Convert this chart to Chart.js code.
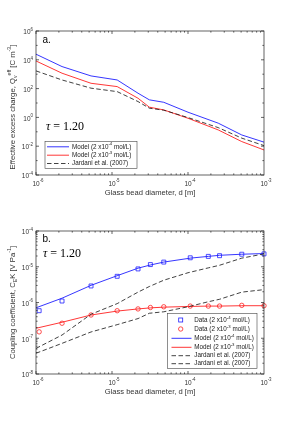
<!DOCTYPE html>
<html><head><meta charset="utf-8">
<script src="https://cdn.jsdelivr.net/npm/chart.js@4/dist/chart.umd.min.js"></script>
<style>
html,body{margin:0;padding:0;background:#fff;width:292px;height:421px;overflow:hidden}
canvas{position:absolute;left:0}
#c1{top:0}
#c2{top:210px}
</style>
</head><body>
<canvas id="c1" width="292" height="210"></canvas>
<canvas id="c2" width="292" height="211"></canvas>
<script>
// ---------- data (panel a) ----------
const diamA    = [1e-6, 2.2e-6, 5.3e-6, 1.17e-5, 2.2e-5, 3.1e-5, 4.8e-5, 1e-4, 2.5e-4, 5.1e-4, 1e-3];
const qModel4  = [2.45e4, 3.39e3, 759, 398, 47.9, 16.6, 11.2, 2.29, 0.398, 0.0603, 0.0191];
const qModel3  = [8.3e3, 1.17e3, 234, 138, 21.4, 5.13, 3.31, 0.871, 0.135, 0.0209, 0.0055];
const qJardani = [1.7e3, 398, 107, 61.7, 12.6, 4.37, 3.16, 0.977, 0.195, 0.0363, 0.011];

// ---------- data (panel b) ----------
const diamData  = [1.1e-6, 2.2e-6, 5.3e-6, 1.17e-5, 2.2e-5, 3.2e-5, 4.8e-5, 1.07e-4, 1.85e-4, 2.6e-4, 5.1e-4, 1e-3];
const cData4    = [5.9e-7, 1.1e-6, 2.9e-6, 5.4e-6, 8.7e-6, 1.15e-5, 1.35e-5, 1.78e-5, 1.95e-5, 2.04e-5, 2.24e-5, 2.29e-5];
const cData3    = [1.51e-7, 2.63e-7, 4.47e-7, 5.89e-7, 6.61e-7, 7.24e-7, 7.59e-7, 7.94e-7, 7.94e-7, 7.94e-7, 8.32e-7, 8.13e-7];
const diamModel = [1e-6, 2.2e-6, 5.3e-6, 1.17e-5, 2.2e-5, 3.2e-5, 4.8e-5, 1.07e-4, 1.85e-4, 2.6e-4, 5.1e-4, 1e-3];
const cModel4   = [7.1e-7, 1.32e-6, 3.02e-6, 5.62e-6, 9.12e-6, 1.12e-5, 1.35e-5, 1.74e-5, 1.95e-5, 2.09e-5, 2.24e-5, 2.34e-5];
const cModel3   = [1.9e-7, 2.8e-7, 4.47e-7, 5.75e-7, 6.61e-7, 7.08e-7, 7.41e-7, 7.76e-7, 7.94e-7, 7.94e-7, 8.13e-7, 8.13e-7];
const diamJ     = [1e-6, 2.2e-6, 5.3e-6, 1.17e-5, 2.2e-5, 3.1e-5, 4.8e-5, 1e-4, 1.85e-4, 2.6e-4, 5.1e-4, 1e-3];
const cJardaniA = [5.2e-8, 1.23e-7, 4.7e-7, 9.3e-7, 1.95e-6, 2.8e-6, 4.2e-6, 6.8e-6, 9.3e-6, 1.1e-5, 1.74e-5, 2.29e-5];
const cJardaniB = [3.8e-8, 7.2e-8, 1.5e-7, 2.4e-7, 3.55e-7, 5.0e-7, 5.5e-7, 7.6e-7, 1.05e-6, 1.23e-6, 1.95e-6, 2.29e-6];

// ---------- ticks ----------
const xTicks    = [1e-6, 1e-5, 1e-4, 1e-3];
const xTickExp  = ['-6', '-5', '-4', '-3'];
const yTicksA   = [1e-4, 1e-2, 1, 1e2, 1e4, 1e6];
const yTickExpA = ['-4', '-2', '0', '2', '4', '6'];
const yTicksB   = [1e-8, 1e-7, 1e-6, 1e-5, 1e-4];
const yTickExpB = ['-8', '-7', '-6', '-5', '-4'];

// ---------- text ----------
const xTitle  = 'Glass bead diameter, d [m]';
const yTitleA = [['Effective excess charge, Q'], ['v','sub'], ['eff','sup'], [' [C m'], ['-3','sup'], [']']];
const yTitleB = [['Coupling coefficient, C'], ['E','sub'], ['K [V Pa'], ['-1','sup'], [']']];
const legA = [
  [['Model (2 x10'], ['-4','sup'], [' mol/L)']],
  [['Model (2 x10'], ['-3','sup'], [' mol/L)']],
  [['Jardani et al. (2007)']]
];
const legB = [
  [['Data (2 x10'], ['-4','sup'], [' mol/L)']],
  [['Data (2 x10'], ['-3','sup'], [' mol/L)']],
  [['Model (2 x10'], ['-4','sup'], [' mol/L)']],
  [['Model (2 x10'], ['-3','sup'], [' mol/L)']],
  [['Jardani et al. (2007)']],
  [['Jardani et al. (2007)']]
];

const SANS = '"Liberation Sans", Arial, sans-serif';
const SERIF = '"Liberation Serif", "DejaVu Serif", serif';
const BLUE = '#1f1fff', RED = '#ff2020', BLACK = '#111';

function pts(xs, ys) { return xs.map((x, i) => ({x: x, y: ys[i]})); }

function rich(ctx, segs, x, y, size, align, family) {
  family = family || SANS;
  let w = 0; const m = [];
  for (const s of segs) {
    const fs = s[1] ? size * 0.68 : size;
    ctx.font = fs + 'px ' + family;
    const ww = ctx.measureText(s[0]).width;
    m.push([fs, ww]); w += ww;
  }
  let cx = align === 'right' ? x - w : (align === 'center' ? x - w / 2 : x);
  ctx.textBaseline = 'middle'; ctx.textAlign = 'left';
  segs.forEach((s, i) => {
    ctx.font = m[i][0] + 'px ' + family;
    const dy = s[1] === 'sup' ? -size * 0.42 : (s[1] === 'sub' ? size * 0.32 : 0);
    ctx.fillText(s[0], cx, y + dy);
    cx += m[i][1];
  });
}

const framePlugin = {
  id: 'frame',
  afterDraw(chart, args, o) {
    const ctx = chart.ctx, a = chart.chartArea;
    const xs = chart.scales.x, ys = chart.scales.y;
    ctx.save();
    ctx.strokeStyle = '#222'; ctx.lineWidth = 0.7;
    ctx.strokeRect(a.left, a.top, a.right - a.left, a.bottom - a.top);
    ctx.beginPath();
    for (let e = -6; e < -3; e++) {
      for (let k = 1; k <= 9; k++) {
        const px = xs.getPixelForValue(k * Math.pow(10, e));
        const L = k === 1 ? 3 : 1.6;
        ctx.moveTo(px, a.bottom); ctx.lineTo(px, a.bottom - L);
        ctx.moveTo(px, a.top); ctx.lineTo(px, a.top + L);
      }
    }
    for (const v of o.yMajor) {
      const py = ys.getPixelForValue(v);
      ctx.moveTo(a.left, py); ctx.lineTo(a.left + 3, py);
      ctx.moveTo(a.right, py); ctx.lineTo(a.right - 3, py);
    }
    for (const v of o.yMinor) {
      const py = ys.getPixelForValue(v);
      ctx.moveTo(a.left, py); ctx.lineTo(a.left + 1.6, py);
      ctx.moveTo(a.right, py); ctx.lineTo(a.right - 1.6, py);
    }
    ctx.stroke();

    ctx.fillStyle = '#333';
    xTicks.forEach((v, i) => {
      rich(ctx, [['10'], [xTickExp[i], 'sup']], xs.getPixelForValue(v) + 2, a.bottom + 9, 6.5, 'center');
    });
    o.yLabels.forEach((v, i) => {
      rich(ctx, [['10'], [o.yExp[i], 'sup']], a.left - 3, ys.getPixelForValue(v) + 1.5, 6.5, 'right');
    });
    ctx.fillStyle = '#333';
    ctx.font = '7.6px ' + SANS; ctx.textAlign = 'center'; ctx.textBaseline = 'middle';
    ctx.fillText(xTitle, (a.left + a.right) / 2, a.bottom + 18);
    ctx.save();
    ctx.translate(13, (a.top + a.bottom) / 2 + o.yTitleShift);
    ctx.rotate(-Math.PI / 2);
    rich(ctx, o.yTitle, 0, 0, 7.7, 'center');
    ctx.restore();

    ctx.fillStyle = '#000';
    ctx.font = '10px ' + SANS; ctx.textAlign = 'left'; ctx.textBaseline = 'middle';
    ctx.fillText(o.letter, a.left + 6.5, o.letterY);
    ctx.font = 'italic 12px ' + SERIF;
    ctx.fillText('\u03C4', o.tauX, o.tauY);
    const tw = ctx.measureText('\u03C4').width;
    ctx.font = '12px ' + SERIF;
    ctx.fillText(' = 1.20', o.tauX + tw, o.tauY);

    const L = o.legend;
    ctx.fillStyle = '#fff';
    ctx.fillRect(L.x0, L.y0, L.x1 - L.x0, L.y1 - L.y0);
    ctx.strokeStyle = '#444'; ctx.lineWidth = 0.6;
    ctx.strokeRect(L.x0, L.y0, L.x1 - L.x0, L.y1 - L.y0);
    L.items.forEach((it, i) => {
      const y = L.rows[i];
      ctx.strokeStyle = it.c; ctx.lineWidth = it.lw;
      if (it.type === 'line') {
        ctx.setLineDash(it.dash || []);
        ctx.beginPath(); ctx.moveTo(L.lx0, y); ctx.lineTo(L.lx1, y); ctx.stroke();
        ctx.setLineDash([]);
      } else if (it.type === 'rect') {
        ctx.strokeRect(L.mx - 2, y - 2, 4, 4);
      } else {
        ctx.beginPath(); ctx.arc(L.mx, y, 2.2, 0, Math.PI * 2); ctx.stroke();
      }
      ctx.fillStyle = '#222';
      rich(ctx, L.text[i], L.tx, y, 6.3, 'left');
    });
    ctx.restore();
  }
};

function baseOptions(ymin, ymax, pad, frame) {
  return {
    responsive: false, animation: false,
    layout: {padding: pad},
    plugins: {legend: {display: false}, tooltip: {enabled: false}, frame: frame},
    scales: {
      x: {type: 'logarithmic', min: 1e-6, max: 1e-3, display: false},
      y: {type: 'logarithmic', min: ymin, max: ymax, display: false}
    },
    elements: {line: {tension: 0}}
  };
}

new Chart(document.getElementById('c1'), {
  type: 'line',
  data: {datasets: [
    {data: pts(diamA, qJardani), borderColor: BLACK, borderWidth: 0.8, borderDash: [4.5, 2.5], pointRadius: 0, fill: false},
    {data: pts(diamA, qModel3), borderColor: RED, borderWidth: 0.9, pointRadius: 0, fill: false},
    {data: pts(diamA, qModel4), borderColor: BLUE, borderWidth: 0.9, pointRadius: 0, fill: false}
  ]},
  options: baseOptions(1e-4, 1e6, {left: 36, right: 28, top: 31, bottom: 35}, {
    yMajor: [1e-4,1e-2,1,1e2,1e4,1e6], yMinor: [1e-3,1e-1,10,1e3,1e5],
    yLabels: yTicksA, yExp: yTickExpA, yTitle: yTitleA, yTitleShift: 4,
    letter: 'a.', letterY: 40, tauX: 46, tauY: 127,
    legend: {
      x0: 45, x1: 137, y0: 141.5, y1: 168.5, lx0: 47, lx1: 69, tx: 72, mx: 58,
      rows: [146.8, 155.2, 163.5],
      items: [{type:'line', c: BLUE, lw: 0.9}, {type:'line', c: RED, lw: 0.9}, {type:'line', c: BLACK, lw: 0.8, dash: [4.5, 2.5]}],
      text: legA
    }
  }),
  plugins: [framePlugin]
});

new Chart(document.getElementById('c2'), {
  type: 'line',
  data: {datasets: [
    {data: pts(diamJ, cJardaniA), borderColor: BLACK, borderWidth: 0.8, borderDash: [4.5, 2.5], pointRadius: 0, fill: false},
    {data: pts(diamJ, cJardaniB), borderColor: BLACK, borderWidth: 0.8, borderDash: [4.5, 2.5], pointRadius: 0, fill: false},
    {data: pts(diamModel, cModel3), borderColor: RED, borderWidth: 0.9, pointRadius: 0, fill: false},
    {data: pts(diamModel, cModel4), borderColor: BLUE, borderWidth: 0.9, pointRadius: 0, fill: false},
    {data: pts(diamData, cData3), showLine: false, borderColor: RED, backgroundColor: 'rgba(0,0,0,0)', pointStyle: 'circle', pointRadius: 2.2, borderWidth: 0.8, clip: false},
    {data: pts(diamData, cData4), showLine: false, borderColor: BLUE, backgroundColor: 'rgba(0,0,0,0)', pointStyle: 'rect', pointRadius: 2.8, borderWidth: 0.8, clip: false}
  ]},
  options: baseOptions(1e-8, 1e-4, {left: 36, right: 28, top: 21, bottom: 47}, {
    yMajor: yTicksB, yMinor: [2e-8,3e-8,4e-8,5e-8,6e-8,7e-8,8e-8,9e-8,2e-7,3e-7,4e-7,5e-7,6e-7,7e-7,8e-7,9e-7,2e-6,3e-6,4e-6,5e-6,6e-6,7e-6,8e-6,9e-6,2e-5,3e-5,4e-5,5e-5,6e-5,7e-5,8e-5,9e-5],
    yLabels: yTicksB, yExp: yTickExpB, yTitle: yTitleB, yTitleShift: 0,
    letter: 'b.', letterY: 29.5, tauX: 43, tauY: 44,
    legend: {
      x0: 167.5, x1: 257, y0: 103.5, y1: 158.5, lx0: 171.5, lx1: 191.5, tx: 194.3, mx: 180.7,
      rows: [110, 119, 128.3, 137.3, 145.7, 153.7],
      items: [{type:'rect', c: BLUE, lw: 0.8}, {type:'circle', c: RED, lw: 0.8},
              {type:'line', c: BLUE, lw: 0.9}, {type:'line', c: RED, lw: 0.9},
              {type:'line', c: BLACK, lw: 0.8, dash: [4.5, 2.5]}, {type:'line', c: BLACK, lw: 0.8, dash: [4.5, 2.5]}],
      text: legB
    }
  }),
  plugins: [framePlugin]
});
</script>
</body></html>
